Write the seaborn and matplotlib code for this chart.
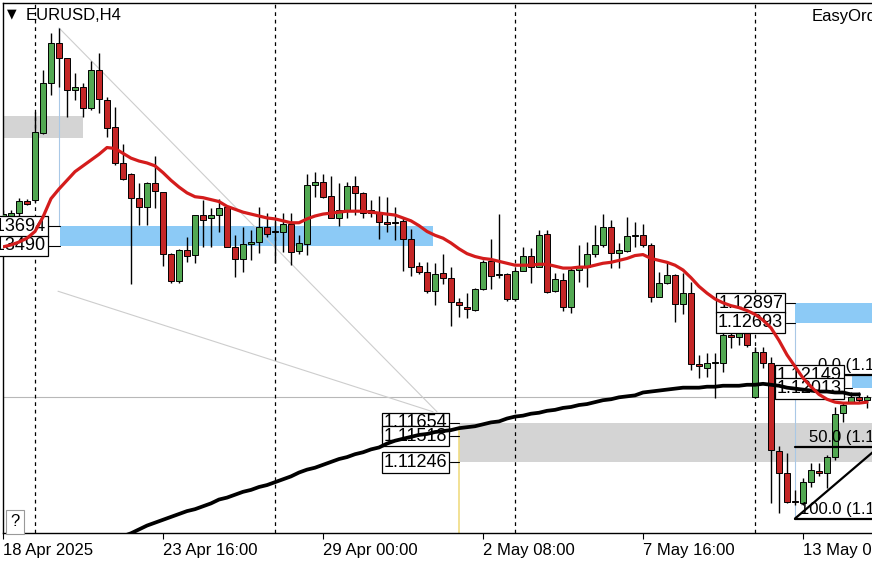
import matplotlib
matplotlib.use('Agg')
import matplotlib.pyplot as plt
import seaborn as sns
import pandas as pd
from matplotlib.patches import Rectangle

# EURUSD H4 candles, first bar = 18 Apr 2025 16:00
opens = [1.1370, 1.1372, 1.1383, 1.1396, 1.1397, 1.1466, 1.1518, 1.1559, 1.1544, 1.1511,
         1.1514, 1.1492, 1.1531, 1.1500, 1.1472, 1.1435, 1.1424, 1.1399, 1.1389, 1.1414,
         1.1405, 1.1341, 1.1313, 1.1345, 1.1340, 1.1381, 1.1378, 1.1381, 1.1389, 1.1348,
         1.1335, 1.1351, 1.1353, 1.1369, 1.1364, 1.1363, 1.1372, 1.1344, 1.1351, 1.1412,
         1.1415, 1.1401, 1.1378, 1.1386, 1.1411, 1.1404, 1.1386, 1.1384, 1.1374, 1.1374,
         1.1375, 1.1356, 1.1328, 1.1322, 1.1302, 1.1321, 1.1316, 1.1291, 1.1286, 1.1283,
         1.1304, 1.1333, 1.1319, 1.1320, 1.1294, 1.1323, 1.1339, 1.1327, 1.1361, 1.1302,
         1.1314, 1.1286, 1.1324, 1.1327, 1.1341, 1.1350, 1.1369, 1.1342, 1.1344, 1.1359,
         1.1360, 1.1350, 1.1296, 1.1311, 1.1319, 1.1289, 1.1300, 1.1227, 1.1222, 1.1228,
         1.1228, 1.1257, 1.1255, 1.1259, 1.1192, 1.1239, 1.1228, 1.1136, 1.1114, 1.1084,
         1.1082, 1.1104, 1.1116, 1.1113, 1.1130, 1.1176, 1.1187, 1.1192, 1.1189]
highs = [1.1386, 1.1386, 1.1399, 1.1398, 1.1488, 1.1531, 1.1570, 1.1575, 1.1544, 1.1528,
         1.1518, 1.1541, 1.1549, 1.1503, 1.1493, 1.1455, 1.1425, 1.1414, 1.1415, 1.1442,
         1.1405, 1.1342, 1.1346, 1.1358, 1.1381, 1.1397, 1.1388, 1.1398, 1.1389, 1.1360,
         1.1369, 1.1366, 1.1389, 1.1383, 1.1378, 1.1383, 1.1383, 1.1360, 1.1424, 1.1426,
         1.1424, 1.1421, 1.1414, 1.1415, 1.1421, 1.1405, 1.1397, 1.1401, 1.1400, 1.1389,
         1.1379, 1.1367, 1.1332, 1.1332, 1.1331, 1.1341, 1.1327, 1.1295, 1.1300, 1.1305,
         1.1334, 1.1356, 1.1382, 1.1321, 1.1324, 1.1348, 1.1347, 1.1365, 1.1366, 1.1321,
         1.1321, 1.1327, 1.1350, 1.1353, 1.1371, 1.1382, 1.1376, 1.1352, 1.1379, 1.1374,
         1.1372, 1.1352, 1.1322, 1.1331, 1.1320, 1.1321, 1.1312, 1.1236, 1.1238, 1.1238,
         1.1259, 1.1259, 1.1267, 1.1264, 1.1244, 1.1244, 1.1234, 1.1142, 1.1134, 1.1096,
         1.1108, 1.1124, 1.1124, 1.1132, 1.1182, 1.1186, 1.1197, 1.1198, 1.1194]
lows = [1.1366, 1.1366, 1.1378, 1.1391, 1.1395, 1.1465, 1.1506, 1.1514, 1.1483, 1.1500,
        1.1483, 1.1490, 1.1487, 1.1462, 1.1433, 1.1417, 1.1309, 1.1371, 1.1371, 1.1388,
        1.1328, 1.1311, 1.1311, 1.1332, 1.1331, 1.1348, 1.1348, 1.1363, 1.1348, 1.1317,
        1.1322, 1.1334, 1.1342, 1.1358, 1.1331, 1.1343, 1.1329, 1.1341, 1.1340, 1.1400,
        1.1399, 1.1378, 1.1370, 1.1378, 1.1381, 1.1378, 1.1379, 1.1356, 1.1363, 1.1355,
        1.1323, 1.1318, 1.1320, 1.1300, 1.1288, 1.1309, 1.1266, 1.1275, 1.1274, 1.1282,
        1.1303, 1.1304, 1.1316, 1.1292, 1.1292, 1.1323, 1.1311, 1.1327, 1.1300, 1.1301,
        1.1281, 1.1279, 1.1312, 1.1306, 1.1338, 1.1348, 1.1326, 1.1326, 1.1343, 1.1348,
        1.1348, 1.1291, 1.1296, 1.1309, 1.1270, 1.1278, 1.1220, 1.1212, 1.1213, 1.1191,
        1.1218, 1.1243, 1.1246, 1.1244, 1.1191, 1.1222, 1.1082, 1.1072, 1.1082, 1.1080,
        1.1080, 1.1099, 1.1110, 1.1098, 1.1127, 1.1166, 1.1186, 1.1186, 1.1181]
closes = [1.1382, 1.1383, 1.1396, 1.1392, 1.1467, 1.1518, 1.1559, 1.1544, 1.1511, 1.1514,
          1.1492, 1.1531, 1.1501, 1.1471, 1.1435, 1.1418, 1.1399, 1.1389, 1.1414, 1.1406,
          1.1341, 1.1313, 1.1345, 1.1339, 1.1381, 1.1376, 1.1381, 1.1388, 1.1348, 1.1335,
          1.1351, 1.1353, 1.1369, 1.1361, 1.1363, 1.1372, 1.1343, 1.1352, 1.1412, 1.1415,
          1.1400, 1.1378, 1.1386, 1.1411, 1.1404, 1.1383, 1.1383, 1.1374, 1.1372, 1.1373,
          1.1356, 1.1327, 1.1322, 1.1302, 1.1320, 1.1316, 1.1291, 1.1288, 1.1284, 1.1304,
          1.1332, 1.1318, 1.1320, 1.1294, 1.1323, 1.1339, 1.1327, 1.1360, 1.1301, 1.1315,
          1.1286, 1.1324, 1.1327, 1.1341, 1.1350, 1.1369, 1.1342, 1.1345, 1.1359, 1.1360,
          1.1350, 1.1296, 1.1311, 1.1319, 1.1289, 1.1300, 1.1227, 1.1224, 1.1228, 1.1229,
          1.1257, 1.1255, 1.1259, 1.1246, 1.1239, 1.1228, 1.1137, 1.1114, 1.1083, 1.1083,
          1.1104, 1.1117, 1.1113, 1.1130, 1.1175, 1.1184, 1.1192, 1.1189, 1.1192]

# red fast MA, one value per bar
ma_fast = [1.1348, 1.1350, 1.1353, 1.1357, 1.1364, 1.1379, 1.1398, 1.1408, 1.1417, 1.1426,
           1.1432, 1.1438, 1.1444, 1.1451, 1.1450, 1.1445, 1.1440, 1.1437, 1.1435, 1.1432,
           1.1425, 1.1417, 1.1410, 1.1404, 1.1400, 1.1399, 1.1397, 1.1395, 1.1390, 1.1387,
           1.1384, 1.1382, 1.1380, 1.1378, 1.1377, 1.1375, 1.1373, 1.1373, 1.1377, 1.1380,
           1.1382, 1.1383, 1.1384, 1.1385, 1.1385, 1.1385, 1.1384, 1.1383, 1.1382, 1.1381,
           1.1378, 1.1375, 1.1370, 1.1364, 1.1360, 1.1357, 1.1352, 1.1346, 1.1341, 1.1338,
           1.1336, 1.1335, 1.1333, 1.1331, 1.1329, 1.1329, 1.1329, 1.1330, 1.1330, 1.1328,
           1.1326, 1.1326, 1.1327, 1.1327, 1.1329, 1.1331, 1.1332, 1.1334, 1.1336, 1.1339,
           1.1340, 1.1336, 1.1334, 1.1332, 1.1329, 1.1324, 1.1316, 1.1307, 1.1300, 1.1294,
           1.1290, 1.1287, 1.1285, 1.1282, 1.1278, 1.1272, 1.1264, 1.1251, 1.1236, 1.1224,
           1.1212, 1.1203, 1.1195, 1.1190, 1.1187, 1.1186, 1.1186, 1.1186, 1.1187]

# black slow MA, bars 15..107 (enters from below the chart)
ma_slow_start = 15
ma_slow = [1.1048, 1.1051, 1.1055, 1.1059, 1.1062, 1.1065, 1.1068, 1.1071, 1.1074, 1.1076,
           1.1079, 1.1082, 1.1086, 1.1088, 1.1091, 1.1094, 1.1096, 1.1099, 1.1101, 1.1104,
           1.1107, 1.1110, 1.1114, 1.1117, 1.1119, 1.1122, 1.1125, 1.1128, 1.1130, 1.1133,
           1.1135, 1.1138, 1.1140, 1.1144, 1.1147, 1.1149, 1.1151, 1.1153, 1.1154, 1.1156,
           1.1157, 1.1158, 1.1160, 1.1161, 1.1162, 1.1164, 1.1166, 1.1167, 1.1170, 1.1172,
           1.1173, 1.1175, 1.1176, 1.1178, 1.1179, 1.1181, 1.1182, 1.1184, 1.1185, 1.1187,
           1.1189, 1.1190, 1.1192, 1.1193, 1.1194, 1.1197, 1.1198, 1.1199, 1.1200, 1.1201,
           1.1202, 1.1202, 1.1202, 1.1203, 1.1203, 1.1204, 1.1204, 1.1204, 1.1205, 1.1205,
           1.1206, 1.1205, 1.1204, 1.1202, 1.1201, 1.1200, 1.1199, 1.1198, 1.1198, 1.1197,
           1.1197, 1.1195, 1.1195]

tick_bars = [0, 20, 40, 60, 80, 100]
tick_labels = ['18 Apr 2025', '23 Apr 16:00', '29 Apr 00:00', '2 May 08:00', '7 May 16:00', '13 May 00:00']
week_starts = [4, 34, 64, 94]

bid = 1.1192
fib_levels = [1.12149, 1.11406, 1.10663]
fib_names = ['0.0', '50.0', '100.0']

df = pd.DataFrame({'bar': range(len(opens)), 'open': opens, 'high': highs,
                   'low': lows, 'close': closes, 'ma': ma_fast})
slow = pd.DataFrame({'bar': range(ma_slow_start, ma_slow_start + len(ma_slow)), 'ma': ma_slow})

sns.set_style('white')
plt.rcParams['font.family'] = ['Liberation Sans', 'DejaVu Sans']

fig = plt.figure(figsize=(8.72, 5.62), dpi=100)
ax = fig.add_axes([2.5 / 872, 29 / 562, 869.5 / 872, 530.5 / 562])
ax.set_xlim(-0.0625, 108.625)
ax.set_ylim(1.10513, 1.16014)

blue = '#8ccaf6'
grey_zone = '#d4d4d4'

# zones
ax.add_patch(Rectangle((-0.5, 1.1461), 10.5, 0.0023, color=grey_zone, lw=0, zorder=1))
ax.add_patch(Rectangle((7.125, 1.13490), 46.625, 0.00204, color=blue, lw=0, zorder=1))
ax.add_patch(Rectangle((99, 1.12693), 12, 0.00204, color=blue, lw=0, zorder=1))
ax.add_patch(Rectangle((106.1, 1.12013), 6, 0.00136, color=blue, lw=0, zorder=1))
ax.add_patch(Rectangle((57, 1.11246), 55, 0.00408, color=grey_zone, lw=0, zorder=1))

# thin helper lines
ax.axhline(bid, color='#b8b8b8', lw=0.8, zorder=1.5)
for b in week_starts:
    ax.axvline(b, color='black', lw=0.9, ls=(0, (3, 3)), zorder=1.5)
ax.plot([7, 54.25], [1.1575, 1.1177], color='#cdcdcd', lw=0.8, zorder=1.5)
ax.plot([6.875, 53.75], [1.1302, 1.1177], color='#cdcdcd', lw=0.8, zorder=1.5)
ax.plot([7, 7], [1.13694, 1.1575], color='#a9c8e6', lw=0.8, zorder=1.5)
ax.plot([99, 99], [1.10663, 1.12693], color='#a9c8e6', lw=0.8, zorder=1.5)
ax.plot([57, 57], [1.10513, 1.1161], color='#f0dc82', lw=1.2, zorder=1.5)

# candles
up = df['close'] >= df['open']
ax.vlines(df['bar'], df['low'], df['high'], color='black', lw=1, zorder=3)
ax.bar(df['bar'], df['close'] - df['open'], bottom=df['open'], width=0.78,
       color=['#52a852' if u else '#c42626' for u in up], edgecolor='black', lw=0.7, zorder=3.5)

# fibonacci
for lvl, name in zip(fib_levels, fib_names):
    ax.plot([99, 112], [lvl, lvl], color='black', lw=1.6, zorder=4)
fib_x = [101.875, 100.75, 99.625]
for lvl, name, fx in zip(fib_levels, fib_names, fib_x):
    ax.text(fx, lvl + 0.0002, f'{name} ({lvl:.5f})', fontsize=12, ha='left', va='bottom',
            color='black', zorder=4.2)
ax.plot([99, 120], [fib_levels[2], fib_levels[0]], color='black', lw=1.6, zorder=4)

# price labels on zone corners
labels = [('1.13694', 1.13694, 5.375, 5.625, 7.125),
          ('1.13490', 1.13490, 5.375, 5.625, 7.125),
          ('1.11654', 1.11654, 55.5, 55.875, 57),
          ('1.11518', 1.11518, 55.5, 55.875, 57),
          ('1.11246', 1.11246, 55.5, 55.875, 57),
          ('1.12897', 1.12897, 97.5, 97.875, 99),
          ('1.12693', 1.12693, 97.5, 97.875, 99),
          ('1.12149', 1.12149, 104.875, 105.25, 106.1),
          ('1.12013', 1.12013, 104.875, 105.25, 106.1)]
for i, (txt, p, tx, l0, l1) in enumerate(labels):
    ax.plot([l0, l1], [p, p], color='black', lw=0.8, zorder=4.5 + i * 0.01)
    ax.text(tx, p, txt, fontsize=13, ha='right', va='center', color='black',
            bbox=dict(boxstyle='square,pad=0.1', fc='white', ec='black', lw=0.9),
            zorder=4.5 + i * 0.01)

# moving averages
sns.lineplot(data=slow, x='bar', y='ma', ax=ax, color='black', lw=2.7, zorder=6)
sns.lineplot(data=df, x='bar', y='ma', ax=ax, color='#d41c1c', lw=2.3, zorder=6.5)

ax.set_xticks(tick_bars)
ax.set_xticklabels(tick_labels, ha='left', fontsize=12)
ax.set_yticks([])
ax.tick_params(axis='x', direction='out', length=4, width=0.8, color='black', pad=3,
               labelcolor='black', bottom=True)
ax.set_xlabel('')
ax.set_ylabel('')
for side in ['top', 'left', 'bottom']:
    ax.spines[side].set_color('black')
    ax.spines[side].set_linewidth(1)
ax.spines['right'].set_visible(False)

fig.text(12 / 872, 1 - 14 / 562, '\u25bc', family='DejaVu Sans', fontsize=9,
         ha='center', va='center', color='black')
fig.text(26 / 872, 1 - 16 / 562, 'EURUSD,H4', fontsize=12, ha='left', va='center', color='black')
fig.text(812 / 872, 1 - 16 / 562, 'EasyOrders', fontsize=12, ha='left', va='center', color='black')
fig.text(15 / 872, 1 - 522 / 562, '?', fontsize=12, ha='center', va='center', color='black',
         bbox=dict(boxstyle='square,pad=0.25', fc='white', ec='#999999', lw=0.8))

fig.savefig('out.png', dpi=100)
